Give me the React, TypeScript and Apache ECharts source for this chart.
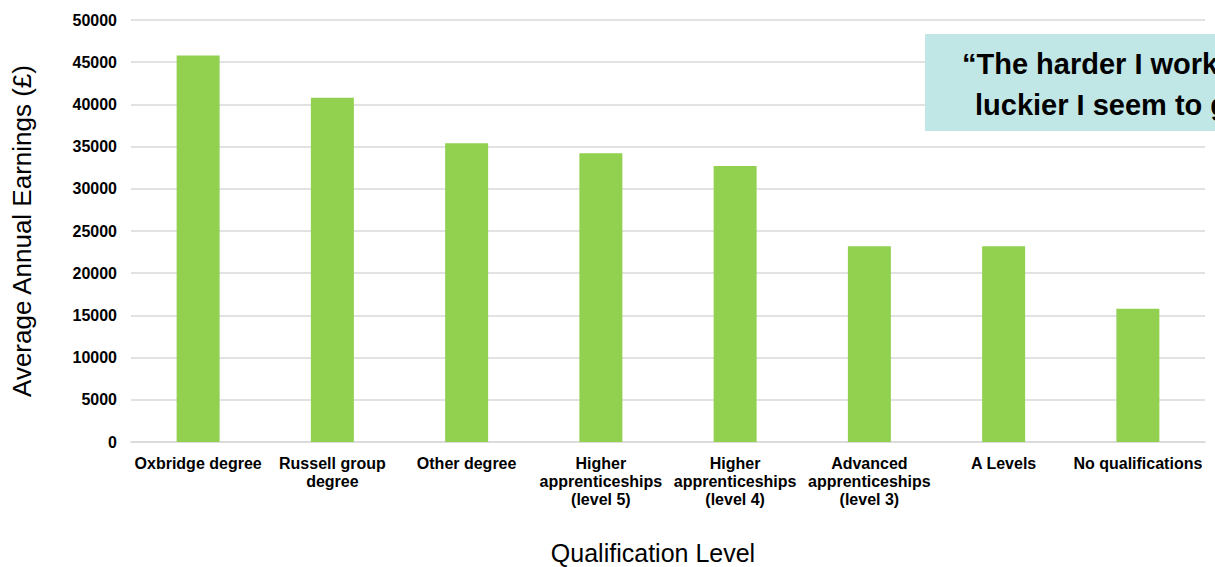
import React, { useEffect, useRef } from "react";
import * as echarts from "echarts";

const categories = [
  "Oxbridge degree",
  "Russell group\ndegree",
  "Other degree",
  "Higher\napprenticeships\n(level 5)",
  "Higher\napprenticeships\n(level 4)",
  "Advanced\napprenticeships\n(level 3)",
  "A Levels",
  "No qualifications",
];
const earnings = [45800, 40800, 35400, 34200, 32700, 23200, 23200, 15800];
const yTicks = { min: 0, max: 50000, interval: 5000 };
const quoteLines = ["\u201CThe harder I work", "luckier I seem to get"];

export default function App() {
  const ref = useRef<HTMLDivElement>(null);
  useEffect(() => {
    document.body.style.margin = "0";
    const chart = echarts.init(ref.current!, null, { renderer: "svg" });
    const font = "'Liberation Sans', Arial, sans-serif";
    chart.setOption({
      animation: false,
      backgroundColor: "#ffffff",
      grid: { left: 131, right: 10, top: 20, bottom: 125, containLabel: false },
      xAxis: {
        type: "category",
        data: categories,
        axisLine: { show: true, lineStyle: { color: "#d9d9d9", width: 1.5 } },
        axisTick: { show: false },
        axisLabel: {
          interval: 0,
          margin: 12,
          color: "#000",
          fontWeight: "bold",
          fontSize: 16,
          fontFamily: font,
          lineHeight: 18,
        },
      },
      yAxis: {
        type: "value",
        min: yTicks.min,
        max: yTicks.max,
        interval: yTicks.interval,
        axisLine: { show: false },
        axisTick: { show: false },
        splitLine: { lineStyle: { color: "#d9d9d9", width: 1.5 } },
        axisLabel: {
          margin: 14,
          color: "#000",
          fontWeight: "bold",
          fontSize: 16,
          fontFamily: font,
          formatter: (v: number) => String(v),
        },
      },
      series: [
        {
          type: "bar",
          data: earnings,
          barWidth: 43,
          itemStyle: { color: "#92D050" },
        },
      ],
      graphic: [
        {
          type: "text",
          x: 22,
          y: 231,
          rotation: Math.PI / 2,
          style: {
            text: "Average Annual Earnings (\u00A3)",
            fontSize: 26,
            fontFamily: font,
            fill: "#000",
            align: "center",
            verticalAlign: "middle",
          },
        },
        {
          type: "text",
          x: 653,
          y: 553,
          style: {
            text: "Qualification Level",
            fontSize: 25,
            fontFamily: font,
            fill: "#000",
            align: "center",
            verticalAlign: "middle",
          },
        },
        {
          type: "rect",
          z: 100,
          shape: { x: 925, y: 34, width: 330, height: 97 },
          style: { fill: "#C0E6E6" },
        },
        {
          type: "text",
          z: 101,
          x: 962,
          y: 64,
          style: {
            text: quoteLines[0],
            fontSize: 29,
            fontWeight: "bold",
            fontFamily: font,
            fill: "#000",
            align: "left",
            verticalAlign: "middle",
          },
        },
        {
          type: "text",
          z: 101,
          x: 975,
          y: 105,
          style: {
            text: quoteLines[1],
            fontSize: 29,
            fontWeight: "bold",
            fontFamily: font,
            fill: "#000",
            align: "left",
            verticalAlign: "middle",
          },
        },
      ],
    });
    return () => chart.dispose();
  }, []);
  return (
    <div
      ref={ref}
      style={{ position: "fixed", left: 0, top: 0, width: 1215, height: 567 }}
    />
  );
}
